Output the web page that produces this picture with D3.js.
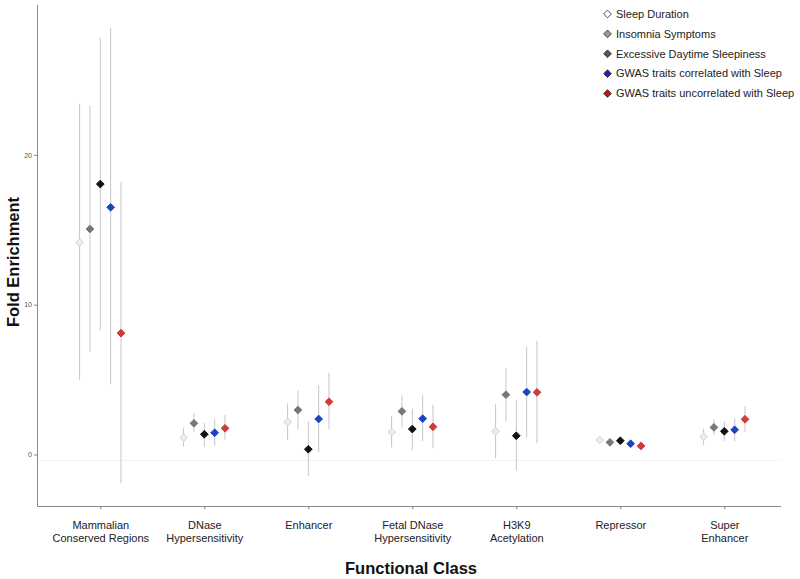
<!DOCTYPE html>
<html>
<head>
<meta charset="utf-8">
<script src="https://cdn.jsdelivr.net/npm/d3@7"></script>
<style>
html,body{margin:0;padding:0;background:#fff;}
svg{display:block;font-family:"Liberation Sans",Arial,sans-serif;}
</style>
</head>
<body>
<svg id="chart" width="800" height="579"></svg>
<script>
// ---- data ----
const categories = ["Mammalian\nConserved Regions","DNase\nHypersensitivity","Enhancer","Fetal DNase\nHypersensitivity","H3K9\nAcetylation","Repressor","Super\nEnhancer"];
const seriesNames = ["Sleep Duration","Insomnia Symptoms","Excessive Daytime Sleepiness","GWAS traits correlated with Sleep","GWAS traits uncorrelated with Sleep"];
// values per series, one per category
const sleepDuration      = [14.15, 1.12, 2.17, 1.50, 1.55, 0.97, 1.19];
const sleepDurationLo    = [4.97, 0.52, 0.97, 0.48, -0.25, 0.85, 0.63];
const sleepDurationHi    = [23.4, 1.79, 3.41, 2.57, 3.37, 1.10, 1.72];
const insomnia           = [15.05, 2.08, 2.97, 2.88, 3.99, 0.81, 1.81];
const insomniaLo         = [6.85, 1.52, 1.68, 1.81, 2.23, 0.70, 1.30];
const insomniaHi         = [23.3, 2.75, 4.28, 3.95, 5.77, 0.92, 2.35];
const eds                = [18.05, 1.35, 0.35, 1.70, 1.25, 0.92, 1.55];
const edsLo              = [8.3, 0.52, -1.43, 0.30, -1.08, 0.80, 0.88];
const edsHi              = [27.8, 2.12, 2.19, 3.05, 3.63, 1.05, 2.21];
const correlated         = [16.5, 1.45, 2.37, 2.39, 4.17, 0.72, 1.65];
const correlatedLo       = [4.68, 0.57, 0.15, 0.90, 1.15, 0.62, 0.88];
const correlatedHi       = [28.45, 2.35, 4.63, 3.95, 7.19, 0.83, 2.43];
const uncorrelated       = [8.1, 1.75, 3.52, 1.85, 4.15, 0.57, 2.35];
const uncorrelatedLo     = [-1.92, 0.97, 1.68, 0.41, 0.75, 0.45, 1.52];
const uncorrelatedHi     = [18.2, 2.63, 5.45, 3.32, 7.59, 0.68, 3.23];
const yTicks = [0, 10, 20];
const refLineValue = -0.4;

const seriesVals = [sleepDuration, insomnia, eds, correlated, uncorrelated];
const seriesLo = [sleepDurationLo, insomniaLo, edsLo, correlatedLo, uncorrelatedLo];
const seriesHi = [sleepDurationHi, insomniaHi, edsHi, correlatedHi, uncorrelatedHi];

const pointFill   = ["#eeeeee", "#777777", "#111111", "#1a44c4", "#cf3b3b"];
const pointStroke = ["#d0d0d0", "#777777", "#111111", "#1a44c4", "#cf3b3b"];
const legendFill  = ["#ffffff", "#9a9a9a", "#555555", "#2020c8", "#c81414"];

const rows = [];
seriesNames.forEach((s, si) => {
  categories.forEach((c, ci) => {
    rows.push({series: s, si, cat: c, v: seriesVals[si][ci], lo: seriesLo[si][ci], hi: seriesHi[si][ci]});
  });
});

// ---- layout ----
const svg = d3.select("#chart");
const pLeft = 37.5, pRight = 781, pTop = 5, pBottom = 506.5;

const x = d3.scalePoint().domain(categories).range([100.3, 724.3]);
const dodge = d3.scalePoint().domain(seriesNames).range([-20.7, 20.7]);
const y = d3.scaleLinear().domain([-3.47, 30.0]).range([pBottom, pTop]);

// faint reference line
svg.append("line")
  .attr("x1", pLeft).attr("x2", pRight)
  .attr("y1", y(refLineValue)).attr("y2", y(refLineValue))
  .attr("stroke", "#fcf0f0").attr("stroke-width", 1);

// axes
const yAxis = d3.axisLeft(y).tickValues(yTicks).tickSize(3.5).tickPadding(2);
const gy = svg.append("g").attr("transform", `translate(${pLeft},0)`).call(yAxis);
gy.select(".domain").remove();
gy.selectAll(".tick line").attr("stroke", "#8a8a8a");
gy.selectAll(".tick text").attr("fill", "#555").attr("font-size", 7)
  .attr("font-family", '"Liberation Sans",Arial,sans-serif');
svg.append("line").attr("x1", pLeft).attr("x2", pLeft).attr("y1", pTop).attr("y2", pBottom)
  .attr("stroke", "#8a8a8a").attr("stroke-width", 1);

const xAxis = d3.axisBottom(x).tickSize(3).tickFormat("");
const gx = svg.append("g").attr("transform", `translate(0,${pBottom})`).call(xAxis);
gx.select(".domain").remove();
gx.selectAll(".tick line").attr("stroke", "#8a8a8a");
svg.append("line").attr("x1", pLeft).attr("x2", pRight).attr("y1", pBottom).attr("y2", pBottom)
  .attr("stroke", "#8a8a8a").attr("stroke-width", 1);

// category labels
gx.selectAll(".tick").each(function(d) {
  const lines = d.split("\n");
  const t = d3.select(this).append("text")
    .attr("text-anchor", "middle")
    .attr("fill", "#222")
    .attr("font-size", 11)
    .attr("font-family", '"Liberation Sans",Arial,sans-serif');
  lines.forEach((ln, i) => {
    t.append("tspan").attr("x", 0).attr("y", 22.5 + i * 12.7).text(ln);
  });
});

// error bars
svg.append("g").selectAll("line").data(rows).join("line")
  .attr("x1", d => x(d.cat) + dodge(d.series))
  .attr("x2", d => x(d.cat) + dodge(d.series))
  .attr("y1", d => y(d.lo)).attr("y2", d => y(d.hi))
  .attr("stroke", "#c6c6c6").attr("stroke-width", 1);

// points
const symType = d3.symbolDiamond2 || d3.symbolSquare;
const rot = d3.symbolDiamond2 ? "" : " rotate(45)";
const diamond = d3.symbol().type(symType).size(38);
svg.append("g").selectAll("path").data(rows).join("path")
  .attr("d", diamond)
  .attr("transform", d => `translate(${x(d.cat) + dodge(d.series)},${y(d.v)})` + rot)
  .attr("fill", d => pointFill[d.si])
  .attr("stroke", d => pointStroke[d.si])
  .attr("stroke-width", 1);

// axis titles
svg.append("text").attr("x", 411).attr("y", 574)
  .attr("text-anchor", "middle").attr("font-weight", "bold").attr("font-size", 16.5)
  .attr("fill", "#111").text("Functional Class");
svg.append("text").attr("transform", "translate(19,262) rotate(-90)")
  .attr("text-anchor", "middle").attr("font-weight", "bold").attr("font-size", 16.5)
  .attr("fill", "#111").text("Fold Enrichment");

// legend
const legY = d3.scalePoint().domain(seriesNames).range([14, 93.5]);
const lg = svg.append("g");
const legDiamond = d3.symbol().type(symType).size(38);
seriesNames.forEach((s, i) => {
  lg.append("path").attr("d", legDiamond)
    .attr("transform", `translate(607.5,${legY(s)})` + rot)
    .attr("fill", legendFill[i]).attr("stroke", "#222").attr("stroke-width", 0.8);
  lg.append("text").attr("x", 616).attr("y", legY(s)).attr("dy", "0.35em")
    .attr("font-size", 11).attr("fill", "#222").text(s);
});
</script>
</body>
</html>
